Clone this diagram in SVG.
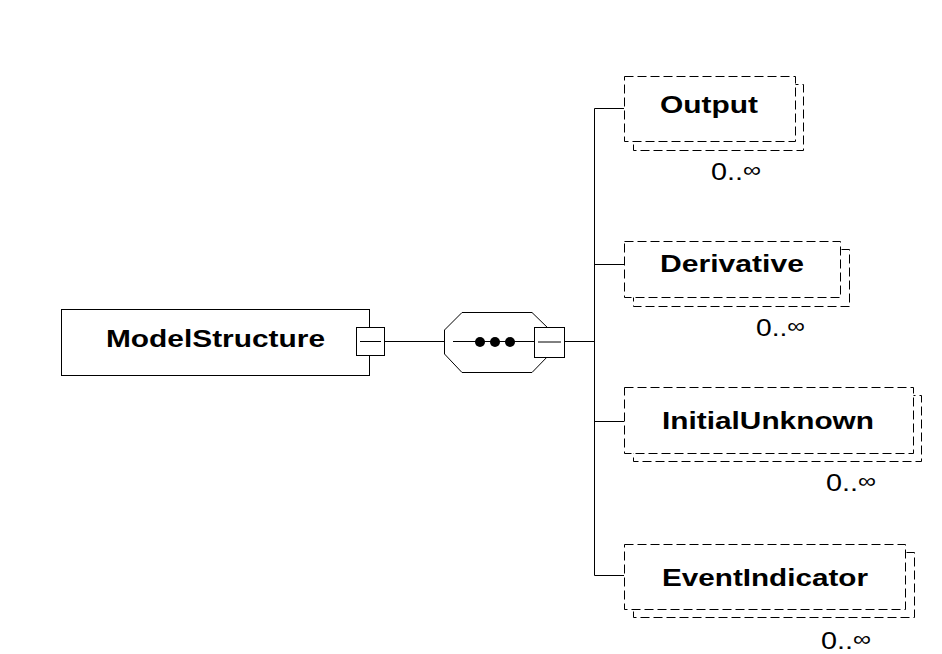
<svg xmlns="http://www.w3.org/2000/svg" width="942" height="654" viewBox="0 0 942 654">
<style>
.ln{stroke:#000;stroke-width:1;fill:none}
.box{stroke:#000;stroke-width:1;fill:#fff}
.dash{stroke:#000;stroke-width:1;fill:#fff;stroke-dasharray:9 4}
.name{font-family:"Liberation Sans",Arial,sans-serif;font-weight:bold;font-size:23.5px;fill:#000}
.mult{font-family:"Liberation Sans",Arial,sans-serif;font-size:24px;fill:#000}
.inf{font-size:21px}
</style>
<rect width="942" height="654" fill="#fff"/>
<g id="connectors">
<line class="ln" x1="384" y1="341.5" x2="444" y2="341.5"/>
<line class="ln" x1="564" y1="341.5" x2="594.5" y2="341.5"/>
<line class="ln" x1="594.5" y1="108.5" x2="594.5" y2="575.5"/>
<line class="ln" x1="594.5" y1="108.5" x2="624" y2="108.5"/>
<line class="ln" x1="594.5" y1="264.5" x2="624" y2="264.5"/>
<line class="ln" x1="594.5" y1="421.5" x2="624" y2="421.5"/>
<line class="ln" x1="594.5" y1="575.5" x2="624" y2="575.5"/>
</g>
<g id="ModelStructure">
<rect class="box" x="61.5" y="309.5" width="308" height="66"/>
<text class="name" x="106" y="347" textLength="219" lengthAdjust="spacingAndGlyphs">ModelStructure</text>
<rect class="box" x="356.5" y="327.5" width="28" height="28"/>
<line class="ln" x1="360" y1="341.5" x2="381" y2="341.5"/>
</g>
<g id="sequence">
<polygon class="box" points="444.5,330 462,312.5 532,312.5 550,330 550,354 532,372.5 462,372.5 444.5,354"/>
<line class="ln" x1="453" y1="341.5" x2="534" y2="341.5"/>
<circle cx="480" cy="342" r="5" fill="#000"/>
<circle cx="495" cy="342" r="5" fill="#000"/>
<circle cx="510" cy="342" r="5" fill="#000"/>
<rect class="box" x="534.5" y="327.5" width="30" height="30"/>
<line class="ln" x1="538" y1="342" x2="561" y2="342"/>
</g>
<g id="Output">
<rect class="dash" x="633.5" y="84.5" width="170" height="66"/>
<rect class="dash" x="624.5" y="76.5" width="171" height="65"/>
<text class="name" x="660" y="113" textLength="98" lengthAdjust="spacingAndGlyphs">Output</text>
<text class="mult" x="711" y="180" textLength="50" lengthAdjust="spacingAndGlyphs">0..<tspan class="inf" dy="-3">∞</tspan></text>
</g>
<g id="Derivative">
<rect class="dash" x="633.5" y="249.5" width="216" height="57"/>
<rect class="dash" x="624.5" y="241.5" width="216" height="56"/>
<text class="name" x="660" y="272" textLength="144" lengthAdjust="spacingAndGlyphs">Derivative</text>
<text class="mult" x="756" y="336" textLength="49" lengthAdjust="spacingAndGlyphs">0..<tspan class="inf" dy="-3">∞</tspan></text>
</g>
<g id="InitialUnknown">
<rect class="dash" x="633.5" y="395.5" width="288" height="66"/>
<rect class="dash" x="624.5" y="387.5" width="289" height="66"/>
<text class="name" x="662" y="429" textLength="212" lengthAdjust="spacingAndGlyphs">InitialUnknown</text>
<text class="mult" x="826" y="491" textLength="50" lengthAdjust="spacingAndGlyphs">0..<tspan class="inf" dy="-3">∞</tspan></text>
</g>
<g id="EventIndicator">
<rect class="dash" x="633.5" y="552.5" width="281" height="65"/>
<rect class="dash" x="624.5" y="544.5" width="281" height="65"/>
<text class="name" x="662" y="586" textLength="206" lengthAdjust="spacingAndGlyphs">EventIndicator</text>
<text class="mult" x="821" y="649" textLength="50" lengthAdjust="spacingAndGlyphs">0..<tspan class="inf" dy="-3">∞</tspan></text>
</g>
</svg>
